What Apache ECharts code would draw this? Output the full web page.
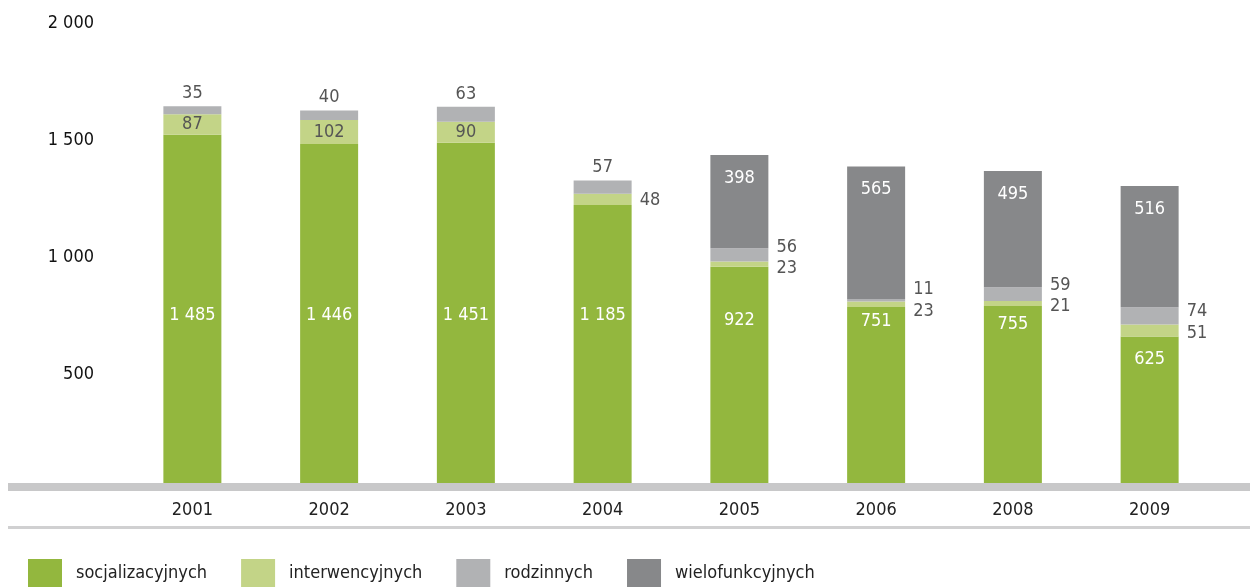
<!DOCTYPE html>
<html>
<head>
<meta charset="utf-8">
<script src="https://cdn.jsdelivr.net/npm/echarts@6/dist/echarts.min.js"></script>
<style>html,body{margin:0;padding:0;background:#fff}#c{width:1250px;height:587px}</style>
</head>
<body>
<div id="c"></div>
<script>
const categories = ['2001','2002','2003','2004','2005','2006','2008','2009'];
const socjalizacyjnych = [1485,1446,1451,1185,922,751,755,625];
const interwencyjnych = [87,102,90,48,23,23,21,51];
const rodzinnych = [35,40,63,57,56,11,59,74];
const wielofunkcyjnych = [null,null,null,null,398,565,495,516];
const yTicks = [0,500,1000,1500,2000];

const FONT = '"DejaVu Sans Condensed","Liberation Sans",sans-serif';
const fmt = v => String(v).replace(/\B(?=(\d{3})+(?!\d))/g, ' ');

// per-item label placement (styling only)
const greenOffsets = [6,2,2,-29,-55,-74,-70,-50];
const lgRight = [false,false,false,true,true,true,true,true];
const lgOffsets = [0,0,0,1,4,7,3,3];
const grRight = [false,false,false,false,true,true,true,true];
const grOffsets = [0,0,0,0,-8,-11,-9,-4];

const labelBase = {fontFamily: FONT, fontSize: 18, color: '#555'};

const greenData = socjalizacyjnych.map((v,i)=>({value:v,label:{position:'inside',offset:[0,greenOffsets[i]]}}));
const lgData = interwencyjnych.map((v,i)=>({value:v,label: lgRight[i]
  ? {position:'right',distance:8,offset:[0,lgOffsets[i]]}
  : {position:'inside'}}));
const grData = rodzinnych.map((v,i)=>({value:v,label: grRight[i]
  ? {position:'right',distance:8,offset:[0,grOffsets[i]]}
  : {position:'top',distance:4}}));

const chart = echarts.init(document.getElementById('c'));
chart.setOption({
  animation:false,
  textStyle:{fontFamily:FONT},
  grid:{left:124,right:32,top:14,bottom:104},
  xAxis:{type:'category',data:categories,
    axisLine:{show:false},axisTick:{show:false},
    axisLabel:{margin:18,fontSize:18,color:'#222',fontFamily:FONT}},
  yAxis:{type:'value',min:0,max:2000,interval:500,
    splitLine:{show:false},axisLine:{show:false},axisTick:{show:false},
    axisLabel:{margin:30,fontSize:18,color:'#111',fontFamily:FONT,verticalAlign:'top',
      formatter:v=> v===0 ? '' : fmt(v)}},
  legend:{left:28,top:559,padding:0,itemWidth:34,itemHeight:28,itemGap:34,icon:'rect',
    textStyle:{fontSize:18,color:'#222',fontFamily:FONT,padding:[0,0,0,9]},
    data:['socjalizacyjnych','interwencyjnych','rodzinnych','wielofunkcyjnych']},
  graphic:[
    {type:'rect',left:8,top:483,shape:{width:1242,height:8},style:{fill:'#c8c8c9'},z:-1},
    {type:'rect',left:8,top:526,shape:{width:1242,height:3},style:{fill:'#d0d0d1'},z:-1}
  ],
  series:[
    {name:'socjalizacyjnych',type:'bar',stack:'s',barWidth:58,data:greenData,
      itemStyle:{color:'#93b73e'},
      label:{show:true,...labelBase,color:'#fff',formatter:p=>fmt(p.value)}},
    {name:'interwencyjnych',type:'bar',stack:'s',data:lgData,
      itemStyle:{color:'#c3d487'},
      label:{show:true,...labelBase,formatter:p=>fmt(p.value)}},
    {name:'rodzinnych',type:'bar',stack:'s',data:grData,
      itemStyle:{color:'#b1b2b4'},
      label:{show:true,...labelBase,formatter:p=>fmt(p.value)}},
    {name:'wielofunkcyjnych',type:'bar',stack:'s',data:wielofunkcyjnych,
      itemStyle:{color:'#87888a'},
      label:{show:true,...labelBase,color:'#fff',position:'insideTop',distance:14,
        formatter:p=>p.value==null?'':fmt(p.value)}}
  ]
});
</script>
</body>
</html>
